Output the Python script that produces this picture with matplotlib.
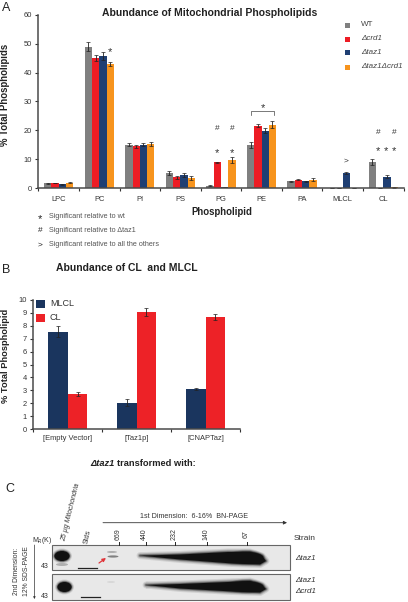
import matplotlib
matplotlib.use('Agg')
import matplotlib.pyplot as plt
from matplotlib.patches import Ellipse, Polygon

plt.rcParams['font.family'] = ['Liberation Sans', 'DejaVu Sans']

W, H = 408, 602

# panel A
lipids = ['LPC', 'PC', 'PI', 'PS', 'PG', 'PE', 'PA', 'MLCL', 'CL']
wt = [1.7, 49.0, 15.1, 5.2, 0.9, 15.0, 2.4, 0.2, 9.0]
crd1 = [1.8, 45.0, 14.5, 3.8, 9.0, 21.7, 3.0, 0.2, 0.2]
taz1 = [1.4, 45.7, 15.1, 4.6, 0.4, 19.9, 2.4, 5.3, 4.0]
taz1crd1 = [2.0, 42.8, 15.3, 3.6, 9.7, 22.0, 3.0, 0.2, 0.3]
wt_err = [0.1, 1.6, 0.6, 0.7, 0.1, 1.0, 0.1, 0.05, 1.0]
crd1_err = [0.1, 1.1, 0.4, 0.6, 0.2, 0.6, 0.1, 0.05, 0.05]
taz1_err = [0.1, 1.5, 0.5, 0.6, 0.05, 0.8, 0.1, 0.3, 0.6]
taz1crd1_err = [0.1, 0.7, 0.7, 0.8, 1.1, 1.3, 0.4, 0.05, 0.05]
strains = ['WT', '\u0394crd1', '\u0394taz1', '\u0394taz1\u0394crd1']
colors_a = ['#808080', '#ed1c24', '#1f3f73', '#f7941d']

# panel B
vectors = ['[Empty Vector]', '[Taz1p]', '[CNAPTaz]']
mlcl = [7.55, 2.05, 3.08]
cl = [2.7, 9.07, 8.7]
mlcl_err = [0.42, 0.25, 0.08]
cl_err = [0.17, 0.3, 0.22]

# panel C
mw_markers = ['669', '440', '232', '140', '67']
mw_x = [119, 145.7, 174.7, 207, 246.7]

fig = plt.figure(figsize=(W / 100, H / 100), dpi=100)


def px_axes(x0, y0, x1, y1):
    return fig.add_axes([x0 / W, 1 - y1 / H, (x1 - x0) / W, (y1 - y0) / H])


def style_axes(ax):
    for s in ['top', 'right']:
        ax.spines[s].set_visible(False)
    for s in ['left', 'bottom']:
        ax.spines[s].set_linewidth(1.1)
        ax.spines[s].set_color('#4a4a4a')
    ax.tick_params(length=2.5, width=0.8, color='#333333', labelcolor='#333333', labelsize=5.4, pad=2)
    ax.set_xticklabels([])


# A
ax = px_axes(38.4, 14.7, 403.5, 188.3)
w = 0.18
series = [(wt, wt_err), (crd1, crd1_err), (taz1, taz1_err), (taz1crd1, taz1crd1_err)]
for k, (vals, errs) in enumerate(series):
    xs = [i + 0.5 + (k - 1.5) * w for i in range(len(lipids))]
    ax.bar(xs, vals, w, color=colors_a[k], yerr=errs, linewidth=0,
           error_kw=dict(ecolor='#222222', elinewidth=0.6, capsize=1.4, capthick=0.5))
ax.set_xlim(0, 9)
ax.set_ylim(0, 60)
ax.set_xticks(range(10))
ax.set_yticks(range(0, 61, 10))
style_axes(ax)
for i, name in enumerate(lipids):
    ax.annotate(name, (i + 0.5, 0), xytext=(0, -8.4), textcoords='offset points', ha='center', va='center',
                fontsize=5.4, color='#333333', annotation_clip=False)

# B
bx = px_axes(33.3, 300, 240, 429)
w = 0.285
for i in range(3):
    bx.bar(i + 0.5 - w / 2, mlcl[i], w, color='#1a355e', yerr=mlcl_err[i], linewidth=0,
           error_kw=dict(ecolor='#222222', elinewidth=0.6, capsize=1.2, capthick=0.5))
    bx.bar(i + 0.5 + w / 2, cl[i], w, color='#ed2227', yerr=cl_err[i], linewidth=0,
           error_kw=dict(ecolor='#222222', elinewidth=0.6, capsize=1.2, capthick=0.5))
bx.set_xlim(0, 3)
bx.set_ylim(0, 10)
bx.set_xticks(range(4))
bx.set_yticks(range(0, 11))
style_axes(bx)
for i, name in enumerate(vectors):
    bx.annotate(name, (i + 0.5, 0), xytext=(0, -7.2), textcoords='offset points', ha='center', va='center',
                fontsize=5.4, color='#333333', annotation_clip=False)

# overlay in picture pixels for labels and the gel
ov = fig.add_axes([0, 0, 1, 1], zorder=5)
ov.set_xlim(0, W)
ov.set_ylim(H, 0)
ov.axis('off')


def txt(x, y, s, size=5.4, **kw):
    kw.setdefault('ha', 'left')
    kw.setdefault('va', 'center')
    kw.setdefault('color', '#222222')
    ov.text(x, y, s, fontsize=size, **kw)


def soft_poly(points):
    # fuzzy edge, the gel is a photo
    for lw, a in [(5, 0.1), (3.5, 0.15), (2.2, 0.25), (1.1, 0.4)]:
        ov.add_patch(Polygon(points, closed=True, facecolor='none', edgecolor='#111111', lw=lw, alpha=a,
                             joinstyle='round'))
    ov.add_patch(Polygon(points, closed=True, color='#111111', lw=0))


def soft_blob(x, y, bw, bh):
    for grow, a in [(5, 0.1), (3.5, 0.15), (2.2, 0.25), (1.1, 0.4)]:
        ov.add_patch(Ellipse((x, y), bw + grow, bh + grow, color='#111111', lw=0, alpha=a))
    ov.add_patch(Ellipse((x, y), bw, bh, color='#111111', lw=0))


txt(2, 8, 'A', 9)
txt(2, 270, 'B', 9)
txt(5, 489, 'C', 9)
txt(209.5, 13, 'Abundance of Mitochondrial Phospholipids', 7.5, weight='bold', ha='center')
txt(5.5, 95, '% Total Phospholipids', 6.9, weight='bold', rotation=90, ha='center')
txt(222, 212, 'Phospholipid', 6.9, weight='bold', ha='center')

# legend A
for y, c, s, st in zip([25, 39, 52, 67], colors_a, strains, ['normal', 'italic', 'italic', 'italic']):
    ov.add_patch(plt.Rectangle((345, y - 2.5), 5, 5, color=c, lw=0))
    txt(361, y, s, 5.8, style=st, color='#444444')

# significance marks
for x, y, s in [(110, 50, '*'), (217, 129, '#'), (217, 151, '*'), (232, 129, '#'), (232, 151, '*'),
                (263, 106, '*'), (346, 161, '>'), (378, 133, '#'), (378, 149, '*'), (386, 149, '*'),
                (394, 133, '#'), (394, 149, '*')]:
    if s == '*':
        txt(x, y + 2, s, 8, ha='center', color='#333333')
    else:
        txt(x, y, s, 6, ha='center', color='#333333')
ov.plot([250.5, 250.5, 274, 274], [115, 111, 111, 115], color='#444444', lw=0.5)

# footnotes A
for y, m, s in [(216.7, '*', 'Significant relative to wt'), (231, '#', 'Significant relative to \u0394taz1'),
                (244.7, '>', 'Significant relative to all the others')]:
    if m == '*':
        txt(40, y + 2, m, 8, ha='center')
    else:
        txt(40, y, m, 6, ha='center')
    txt(49, y, s, 5.2, color='#555555')

# B labels
txt(56, 268, 'Abundance of CL  and MLCL', 7.5, weight='bold')
txt(6, 356, '% Total Phospholipid', 6.7, weight='bold', rotation=90, ha='center')
for y, c, s in [(304, '#1a355e', 'MLCL'), (317.5, '#ed2227', 'CL')]:
    ov.add_patch(plt.Rectangle((36, y - 4), 8.5, 8, color=c, lw=0))
    txt(50, y, s, 6.5, color='#333333')
txt(90, 464, '\u0394taz1', 6.7, weight='bold', style='italic')
txt(117, 464, 'transformed with:', 6.7, weight='bold')

# C gel panels
for y0, y1 in [(545, 570), (574, 599.5)]:
    ov.add_patch(plt.Rectangle((51.7, y0), 238.3, y1 - y0, facecolor='#e8e8e8', edgecolor='#666666', lw=0.8))
soft_blob(62, 556, 15, 10)
ov.add_patch(Ellipse((62, 564.5), 12, 3, color='#b0b0b0', lw=0))
soft_blob(64.5, 587, 14, 10)
ov.plot([78, 97], [567.7, 567.7], color='#222222', lw=0.9)
ov.plot([81, 100], [596.7, 596.7], color='#222222', lw=0.9)
soft_poly([(140, 555.6), (180, 554.5), (228, 552), (250, 552), (262, 556), (266, 561), (260, 564.5),
           (232, 563.5), (180, 559.5)])
soft_blob(246, 557.5, 34, 11)
soft_poly([(146, 585), (180, 584), (228, 582), (250, 581), (262, 585), (266, 589), (260, 592.5), (232, 591.5),
           (180, 588.5)])
soft_blob(246, 586.5, 34, 10)
ov.add_patch(Ellipse((112, 552), 10, 1.6, color='#a0a0a0', lw=0))
ov.add_patch(Ellipse((113, 556.5), 11, 2.2, color='#808080', lw=0))
ov.add_patch(Ellipse((111, 582), 8, 2, color='#d8d8d8', lw=0))
ov.annotate('', xy=(106, 558), xytext=(99, 563),
            arrowprops=dict(arrowstyle='-|>', color='#e0353a', lw=0.9, mutation_scale=5, shrinkA=0, shrinkB=0))

# C labels
for x, s in zip(mw_x, mw_markers):
    ov.plot([x, x], [541.5, 545], color='#222222', lw=0.7)
    txt(x - 1, 534, s, 5.0, rotation=90, ha='center', color='#333333')
txt(71, 512, '25 \u00b5g Mitochondria', 5.0, rotation=76, ha='center', style='italic', color='#333333')
txt(88, 537, 'Stds', 5.0, rotation=78, ha='center', color='#333333')
ov.annotate('', xy=(287, 522.7), xytext=(103, 522.7),
            arrowprops=dict(arrowstyle='-|>', color='#333333', lw=0.6, mutation_scale=5, shrinkA=0, shrinkB=0))
txt(194, 517, '1st Dimension:  6-16%  BN-PAGE', 5.1, ha='center', color='#333333')
txt(294, 539, 'Strain', 6, color='#333333')
txt(295, 558, '\u0394taz1', 5.8, style='italic', color='#333333')
txt(295, 581, '\u0394taz1', 5.8, style='italic', color='#333333')
txt(295, 591.5, '\u0394crd1', 5.8, style='italic', color='#333333')
txt(42, 541, 'M$_R$(K)', 5, ha='center', color='#333333')
txt(45, 567, '43', 5, ha='center', color='#333333')
txt(45, 597, '43', 5, ha='center', color='#333333')
txt(17, 571, '2nd Dimension:', 4.9, rotation=90, ha='center', color='#333333')
txt(26, 571, '12% SDS-PAGE', 4.9, rotation=90, ha='center', color='#333333')
ov.annotate('', xy=(34.4, 599), xytext=(34.4, 545),
            arrowprops=dict(arrowstyle='-|>', color='#333333', lw=0.5, mutation_scale=3, shrinkA=0, shrinkB=0))

fig.savefig('out.png', dpi=100)
